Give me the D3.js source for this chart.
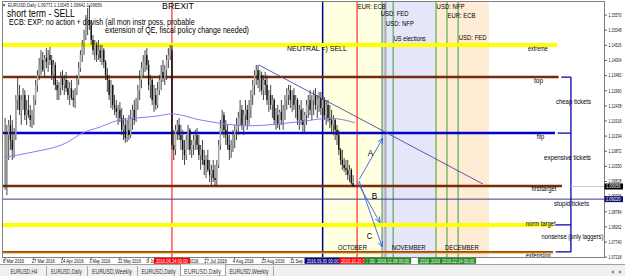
<!DOCTYPE html>
<html><head><meta charset="utf-8">
<script src="https://cdn.jsdelivr.net/npm/d3@7"></script>
<style>html,body{margin:0;padding:0;background:#fff;overflow:hidden}text{font-family:'Liberation Sans',Arial,sans-serif}</style>
</head><body><svg id="c" width="625" height="276"></svg>
<script>
// ---------------- DATA ----------------
const firstOpen = 1.1057;
const highs = [
1.1202,1.1178,1.1195,1.1212,1.1195,1.1167,1.1281,1.1343,1.1316,1.1281,
1.1305,1.1298,1.1264,1.1281,1.1247,1.1230,1.1281,1.1333,1.1367,1.1409,
1.1436,1.1430,1.1419,1.1443,1.1436,1.1447,1.1419,1.1402,1.1395,1.1333,
1.1326,1.1361,1.1367,1.1350,1.1361,1.1333,1.1326,1.1333,1.1298,1.1305,
1.1350,1.1395,1.1436,1.1471,1.1506,1.1557,1.1581,1.1592,1.1540,1.1488,
1.1471,1.1464,1.1471,1.1454,1.1454,1.1443,1.1402,1.1374,1.1350,1.1333,
1.1316,1.1281,1.1264,1.1247,1.1257,1.1236,1.1212,1.1202,1.1195,1.1212,
1.1230,1.1247,1.1264,1.1271,1.1316,1.1367,1.1395,1.1419,1.1436,1.1443,
1.1402,1.1350,1.1340,1.1316,1.1305,1.1326,1.1350,1.1385,1.1402,1.1385,
1.1419,1.1443,1.1454,1.1454,1.1161,1.1178,1.1195,1.1202,1.1178,1.1161,
1.1126,1.1143,1.1178,1.1167,1.1126,1.1143,1.1161,1.1167,1.1143,1.1109,
1.1126,1.1092,1.1074,1.1092,1.1057,1.1040,1.1057,1.1040,1.1057,1.1126,
1.1195,1.1230,1.1223,1.1195,1.1178,1.1143,1.1126,1.1161,1.1178,1.1202,
1.1223,1.1264,1.1247,1.1230,1.1264,1.1247,1.1264,1.1298,1.1333,1.1367,
1.1385,1.1385,1.1367,1.1361,1.1350,1.1361,1.1350,1.1298,1.1316,1.1281,
1.1271,1.1236,1.1247,1.1230,1.1264,1.1247,1.1281,1.1305,1.1316,1.1316,
1.1298,1.1305,1.1281,1.1271,1.1247,1.1264,1.1236,1.1223,1.1264,1.1281,
1.1298,1.1281,1.1298,1.1305,1.1281,1.1292,1.1292,1.1281,1.1274,1.1264,
1.1264,1.1247,1.1230,1.1212,1.1202,1.1178,1.1161,1.1098,1.1092,1.1064,
1.1057,1.1057,1.1040,1.1029,1.10045];
const lows = [
1.0954,1.0936,1.1057,1.1092,1.1057,1.1064,1.1126,1.1230,1.1212,1.1178,
1.1230,1.1195,1.1178,1.1202,1.1171,1.1167,1.1178,1.1247,1.1292,1.1333,
1.1350,1.1361,1.1340,1.1374,1.1361,1.1385,1.1333,1.1316,1.1298,1.1264,
1.1264,1.1281,1.1298,1.1281,1.1292,1.1264,1.1247,1.1264,1.1240,1.1236,
1.1281,1.1316,1.1361,1.1395,1.1419,1.1471,1.1488,1.1506,1.1454,1.1419,
1.1402,1.1395,1.1402,1.1395,1.1385,1.1374,1.1333,1.1292,1.1264,1.1236,
1.1230,1.1212,1.1202,1.1178,1.1188,1.1143,1.1126,1.1116,1.1119,1.1126,
1.1133,1.1161,1.1178,1.1188,1.1230,1.1264,1.1305,1.1340,1.1361,1.1367,
1.1298,1.1271,1.1247,1.1223,1.1230,1.1236,1.1281,1.1298,1.1326,1.1316,
1.1333,1.1374,1.1402,1.1092,1.1057,1.1074,1.1126,1.1126,1.1092,1.1057,
1.1040,1.1057,1.1092,1.1074,1.1064,1.1074,1.1092,1.1092,1.1057,1.1023,
1.1040,1.1005,1.0995,1.1016,1.0981,1.0971,1.0981,1.0967,1.0971,1.1029,
1.1092,1.1143,1.1133,1.1109,1.1092,1.1057,1.1064,1.1085,1.1098,1.1126,
1.1143,1.1178,1.1161,1.1143,1.1178,1.1161,1.1178,1.1202,1.1247,1.1281,
1.1316,1.1305,1.1292,1.1281,1.1264,1.1281,1.1247,1.1223,1.1230,1.1202,
1.1178,1.1161,1.1167,1.1161,1.1178,1.1161,1.1195,1.1230,1.1247,1.1236,
1.1223,1.1230,1.1202,1.1178,1.1161,1.1178,1.1154,1.1150,1.1178,1.1202,
1.1212,1.1195,1.1212,1.1230,1.1202,1.1223,1.1212,1.1202,1.1195,1.1178,
1.1188,1.1167,1.1154,1.1143,1.1126,1.1109,1.1074,1.1040,1.1023,1.1016,
1.1005,1.0988,1.0981,1.0972,1.09641];
const closes = [
1.1092,1.1143,1.1178,1.1126,1.1092,1.1143,1.1264,1.1281,1.1230,1.1264,
1.1281,1.1212,1.1230,1.1212,1.1195,1.1202,1.1264,1.1316,1.1350,1.1385,
1.1402,1.1367,1.1409,1.1395,1.1419,1.1402,1.1350,1.1385,1.1316,1.1298,
1.1305,1.1340,1.1316,1.1333,1.1305,1.1281,1.1305,1.1271,1.1264,1.1292,
1.1333,1.1374,1.1419,1.1454,1.1488,1.1523,1.1540,1.1523,1.1471,1.1436,
1.1454,1.1419,1.1436,1.1409,1.1436,1.1395,1.1350,1.1333,1.1281,1.1316,
1.1247,1.1236,1.1223,1.1230,1.1202,1.1161,1.1178,1.1133,1.1161,1.1143,
1.1202,1.1230,1.1195,1.1257,1.1298,1.1333,1.1374,1.1395,1.1419,1.1385,
1.1316,1.1333,1.1264,1.1281,1.1247,1.1298,1.1333,1.1361,1.1340,1.1367,
1.1402,1.1419,1.1436,1.1109,1.1092,1.1161,1.1178,1.1143,1.1126,1.1092,
1.1074,1.1126,1.1161,1.1092,1.1109,1.1126,1.1143,1.1109,1.1074,1.1092,
1.1057,1.1040,1.1057,1.1023,1.1005,1.1023,1.0995,1.0988,1.1040,1.1109,
1.1167,1.1212,1.1161,1.1143,1.1109,1.1092,1.1109,1.1143,1.1161,1.1178,
1.1202,1.1230,1.1178,1.1212,1.1230,1.1195,1.1236,1.1281,1.1316,1.1350,
1.1367,1.1333,1.1350,1.1298,1.1333,1.1316,1.1264,1.1281,1.1247,1.1264,
1.1195,1.1212,1.1178,1.1223,1.1195,1.1230,1.1264,1.1281,1.1298,1.1264,
1.1281,1.1247,1.1264,1.1195,1.1230,1.1195,1.1178,1.1212,1.1247,1.1264,
1.1230,1.1264,1.1281,1.1247,1.1264,1.1271,1.1236,1.1264,1.1212,1.1247,
1.1202,1.1195,1.1178,1.1195,1.1161,1.1143,1.1092,1.1057,1.1040,1.1029,
1.1023,1.1005,1.1023,1.09771,1.09656];

// 200-day moving average, read at sample bars
const maBars   = [0, 16, 34, 43, 53, 62, 85, 93, 109, 136, 164, 181, 195];
const maValues = [1.1067,1.1085,1.1116,1.1150,1.1171,1.1192,1.1209,1.1216,1.1195,1.1175,1.1189,1.1201,1.1186];

const priceTickLabels = ["1.15570","1.15048","1.14526","1.14004","1.13482","1.12960","1.12438","1.11916","1.11394","1.10872","1.10350","1.09828","1.09306","1.08784","1.08262","1.07740","1.07218"];
const dateLabels = ["8 Mar 2016","27 Mar 2016","14 Apr 2016","3 May 2016","22 May 2016","9 Jun 2016","28 Jun 2016","17 Jul 2016","4 Aug 2016","23 Aug 2016","11 Sep 2016"];
const dateLabelEvery = 16;

const levelNames  = ["extreme","top","flip","firsttarget","norm target","extension"];
const levelPrices = [1.1454, 1.1343, 1.1150, 1.0967, 1.0833, 1.0740];
const levelEndBar = [307.6, 308.5, 306.5, 310.4, 305.4, 305.4];
const zoneNames   = ["cheap tickets","expensive tickets","stupid tickets","nonsense (only laggers)"];
const markerLinePrice = 1.0922;
const bidPrice = 1.09656;

const eventNames = ["BREXIT","","EUR: ECB","USD: FED","USD: NFP","US elections","USD: NFP","EUR: ECB","USD: FED"];
const eventDates = ["2016.06.24 00:00","2016.09.30 00:00","2016.10.20 00:00","2016.11.02 00:00","2016.11.04 00:00","2016.11.08 00:00","2016.12.02 00:00","2016.12.08 00:00","2016.12.14 00:00"];
const eventBars  = [93, 177, 196.2, 210.2, 212, 216.3, 240.2, 246.3, 252.5];

const monthNames = ["OCTOBER","NOVEMBER","DECEMBER"];
const monthBars  = [177, 210.3, 239.6, 269.7];

const trendBars = [141.4, 266.4], trendPrices = [1.1385, 1.0974];
const scenarioNames = ["A","B","C"];
const scenarioFrom = [[197.4,1.0990],[196.0,1.0985],[197.3,1.0985]];
const scenarioTo   = [[210.5,1.1132],[209.0,1.0841],[210.2,1.0757]];

const tabNames = ["EURUSD,H4","EURUSD,Daily","EURUSD,Weekly","EURUSD,Daily","EURUSD,Daily","EURUSD,Weekly"];
const activeTab = 4;

// ---------------- LAYOUT ----------------
const svg = d3.select('#c');
const PL=2.5, PR=604.5, PT=1.5, PB=257.5;
const X0=5.1, STEP=1.794;
const x = d3.scaleLinear().domain([0,334]).range([X0, X0+334*STEP]);
const y = d3.scaleLinear().domain([1.1609, 1.1609-0.000345*257]).range([0,257]);

// text helper: compresses horizontally with a transform so the drawn box is exact
function T(g,s,xx,yb,size,len,anchor,fill,weight){
  const t=g.append('text').attr('x',0).attr('y',0).attr('font-size',size)
    .attr('fill',fill||'#000').attr('font-weight',weight||'normal').text(s);
  const w=t.node().getComputedTextLength()||1;
  const W=len||w, sx=W/w;
  const x0 = anchor==='middle'? xx-W/2 : anchor==='end'? xx-W : xx;
  t.attr('transform',`translate(${x0},${yb}) scale(${sx},1)`);
  return t;
}

svg.append('rect').attr('width',625).attr('height',276).attr('fill','#fff');
const defs = svg.append('defs');
defs.append('clipPath').attr('id','plot').append('rect').attr('x',PL).attr('y',PT).attr('width',PR-PL).attr('height',PB-PT);
defs.append('marker').attr('id','ah').attr('viewBox','0 0 10 10').attr('refX',9).attr('refY',5)
  .attr('markerWidth',7).attr('markerHeight',7).attr('orient','auto')
  .append('path').attr('d','M0,1 L9,5 L0,9').attr('fill','none').attr('stroke','#3f5fe8').attr('stroke-width',1.4);

const g = svg.append('g').attr('clip-path','url(#plot)');

// month shading
const shadeColors = ['#ffffe1','#e6e6fa','#ffecd4'];
monthNames.forEach((m,k)=>{
  g.append('rect').attr('x',x(monthBars[k])).attr('y',PT).attr('width',x(monthBars[k+1])-x(monthBars[k])).attr('height',PB-PT).attr('fill',shadeColors[k]);
});

// vertical event lines
const evLine = ['#ff0000','#00007f','#ff0000','#93b393','#a6aca6','#3a9a3a','#3a9a3a','#3a9a3a','#3a9a3a'];
const evW    = [1,1.5,1,2,2,1,1,1,1];
const evBox  = ['#ff0000','#000080','#ff0000','#238b23','#238b23','#238b23','#238b23','#238b23','#238b23'];
eventBars.forEach((b,i)=>{
  g.append('line').attr('x1',x(b)).attr('x2',x(b)).attr('y1',PT).attr('y2',PB).attr('stroke',evLine[i]).attr('stroke-width',evW[i]);
});

// horizontal levels
const lvColor = ['#ffff00','#7a2a0c','#0000c8','#7a2a0c','#ffff00','#9a4a14'];
const lvW     = [4,2.5,2.5,2.5,4,2];
levelPrices.forEach((p,i)=>{
  g.append('line').attr('x1',PL).attr('x2',x(levelEndBar[i])).attr('y1',y(p)).attr('y2',y(p)).attr('stroke',lvColor[i]).attr('stroke-width',lvW[i]);
});
g.append('line').attr('x1',PL).attr('x2',x(levelEndBar[5])).attr('y1',y(levelPrices[5])+1.3).attr('y2',y(levelPrices[5])+1.3).attr('stroke','#e8b048').attr('stroke-width',1);
g.append('line').attr('x1',PL).attr('x2',PR).attr('y1',y(markerLinePrice)).attr('y2',y(markerLinePrice)).attr('stroke','#3a3a9a').attr('stroke-width',1);

// bracket
const bracketBar = 315.4;
const bx = x(bracketBar);
g.append('line').attr('x1',bx).attr('x2',bx).attr('y1',y(levelPrices[1])).attr('y2',y(levelPrices[5])).attr('stroke','#0000b0').attr('stroke-width',1.3);
[1,2,4,5].forEach(i=>{
  g.append('line').attr('x1',x(levelEndBar[i]+1.5)).attr('x2',bx).attr('y1',y(levelPrices[i])).attr('y2',y(levelPrices[i])).attr('stroke','#0000b0').attr('stroke-width',1.3);
});
g.append('line').attr('x1',bx).attr('x2',PR).attr('y1',y(bidPrice)).attr('y2',y(bidPrice)).attr('stroke','#c8c8c8').attr('stroke-width',1);

// candles
const candles = closes.map((c,i)=>({i,o:i?closes[i-1]:firstOpen,h:highs[i],l:lows[i],c}));
const cg = g.append('g');
candles.forEach(d=>{
  const cx = x(d.i);
  const top = Math.max(d.h,d.o,d.c), bot = Math.min(d.l,d.o,d.c);
  cg.append('line').attr('x1',cx).attr('x2',cx).attr('y1',y(top)).attr('y2',y(bot)).attr('stroke','#303030').attr('stroke-width',0.9);
  const y1=y(Math.max(d.o,d.c)), y2=y(Math.min(d.o,d.c));
  cg.append('rect').attr('x',cx-0.7).attr('width',1.4).attr('y',y1).attr('height',Math.max(1,y2-y1))
    .attr('fill',d.c>=d.o?'#a8a8a8':'#111');
});

// moving average
g.append('path').datum(maBars.map((b,i)=>[b,maValues[i]]))
  .attr('d',d3.line().x(d=>x(d[0])).y(d=>y(d[1])).curve(d3.curveMonotoneX))
  .attr('fill','none').attr('stroke','#a070f0').attr('stroke-width',1);

// trend line
g.append('line').attr('x1',x(trendBars[0])).attr('y1',y(trendPrices[0])).attr('x2',x(trendBars[1])).attr('y2',y(trendPrices[1]))
  .attr('stroke','#4a4aa8').attr('stroke-width',0.9);

// scenario arrows
scenarioNames.forEach((n,i)=>{
  g.append('line').attr('x1',x(scenarioFrom[i][0])).attr('y1',y(scenarioFrom[i][1])).attr('x2',x(scenarioTo[i][0])).attr('y2',y(scenarioTo[i][1]))
    .attr('stroke','#3f5fe8').attr('stroke-width',0.9).attr('marker-end','url(#ah)');
});

// ----- texts in plot
const tg = svg.append('g');
const lvLab = [[538,50.5,20],[538.5,82.5,9],[540.5,138.5,7.5],[544,190.5,25],[540.7,225.5,30],[538.3,257.5,25]];
levelNames.forEach((n,i)=>T(tg,n,lvLab[i][0],lvLab[i][1],6.5,lvLab[i][2],'middle'));
const zoneLen=[35,47,35,62], zoneX=[573.4,567.5,571.5,572.5];
zoneNames.forEach((n,i)=>{
  const mid=(y(levelPrices[i+1])+y(levelPrices[i+2]))/2;
  T(tg,n,zoneX[i],mid+1.5-(i===0?3:1),6.5,zoneLen[i],'middle');
});
const evLabY=[9,0,8.5,15.5,25.5,41,8.5,17.5,39.5];
eventNames.forEach((n,i)=>{
  if(!n) return;
  if(i===0){ T(tg,n,162,9,9.5,32); return; }
  T(tg,n,x(eventBars[i])+(i===3?-1.5:0.6),evLabY[i],7,n.length>9?32:28);
});
const monLen=[29,34,34];
monthNames.forEach((m,k)=>T(tg,m,(x(monthBars[k])+x(monthBars[k+1]))/2,249.5,7,monLen[k],'middle'));
const scLab=[[367.7,155.5],[371.7,199],[366.7,238.5]];
scenarioNames.forEach((n,i)=>T(tg,n,scLab[i][0],scLab[i][1],9,5.5));
T(tg,"NEUTRAL =) SELL",287,51,8,60);
T(tg,"short term - SELL",7,16.5,10.5,68);
T(tg,"ECB: EXP: no action + dovish (all mon instr poss, probable",9,25,8.3,186);
T(tg,"extension of QE, fiscal policy change needed)",105,33.3,8.3,144);
const last=candles[candles.length-1], fmt=d3.format('.5f');
T(tg,"\u25BC",2,7,5,4,'start','#333');
T(tg,"EURUSD,Daily "+[last.o,last.h,last.l,last.c].map(fmt).join(' '),8,7,5.5,94,'start','#222');

// frame
svg.append('rect').attr('x',PL).attr('y',PT).attr('width',PR-PL).attr('height',PB-PT).attr('fill','none').attr('stroke','#808080').attr('stroke-width',1);

// price axis
const ag = svg.append('g');
priceTickLabels.forEach(s=>{
  const yy=y(+s);
  ag.append('line').attr('x1',PR).attr('x2',PR+2.5).attr('y1',yy).attr('y2',yy).attr('stroke','#333').attr('stroke-width',0.8);
  T(ag,s,608.5,yy+1.8,5,13,'start','#111');
});
[[bidPrice,'#000'],[markerLinePrice,'#101070']].forEach(([p,c])=>{
  const yy=y(p);
  ag.append('rect').attr('x',PR).attr('y',yy-3).attr('width',18.5).attr('height',6).attr('fill',c);
  T(ag,fmt(p),606,yy+2,5,14.5,'start','#fff');
});

// time axis
const xg = svg.append('g');
dateLabels.forEach((s,k)=>{
  const xx=x(k*dateLabelEvery);
  xg.append('line').attr('x1',xx).attr('x2',xx).attr('y1',PB).attr('y2',PB+2).attr('stroke','#333').attr('stroke-width',0.8);
  T(xg,s,xx-2,262.8,5.5,s.length*2.1,'start','#111');
});
eventBars.forEach((b,i)=>{
  const xx=x(b);
  xg.append('rect').attr('x',xx-18).attr('y',PB+0.3).attr('width',36).attr('height',6).attr('fill',evBox[i]);
  T(xg,eventDates[i],xx,PB+5,4.5,32,'middle','#fff');
});

// tabs
const tb = svg.append('g');
tb.append('rect').attr('x',0).attr('y',264).attr('width',625).attr('height',12).attr('fill','#f0f0f0');
tb.append('line').attr('x1',0).attr('x2',625).attr('y1',264.5).attr('y2',264.5).attr('stroke','#a0a0a0');
const tabEdges=[2,46,87,137,180,225,273];
const tabLen=[27,31,40,34,37,39];
tabNames.forEach((n,i)=>{
  const a=tabEdges[i], b=tabEdges[i+1];
  if(i===activeTab){
    tb.append('rect').attr('x',a+0.5).attr('y',264).attr('width',b-a).attr('height',12).attr('fill','#fff').attr('stroke','#a0a0a0').attr('stroke-width',1);
  } else {
    tb.append('line').attr('x1',b+0.5).attr('x2',b+0.5).attr('y1',266).attr('y2',276).attr('stroke','#a8a8a8');
  }
  T(tb,n,(a+b)/2,274,7,tabLen[i],'middle','#333');
});
tb.append('path').attr('d','M614,270 L611,272 L614,274Z').attr('fill','#888');
tb.append('path').attr('d','M619,270 L622,272 L619,274Z').attr('fill','#888');
</script></body></html>
